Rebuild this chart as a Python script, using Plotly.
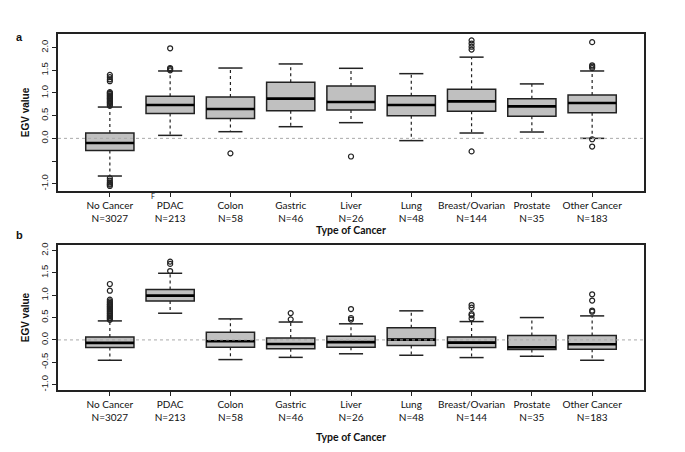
import plotly.graph_objects as go
from plotly.subplots import make_subplots

# ---------------- data
categories = ["No Cancer", "PDAC", "Colon", "Gastric", "Liver", "Lung",
              "Breast/Ovarian", "Prostate", "Other Cancer"]
counts = [3027, 213, 58, 46, 26, 48, 144, 35, 183]

# panel a
a_q1 = [-0.265, 0.55, 0.44, 0.61, 0.625, 0.50, 0.596, 0.49, 0.566]
a_med = [-0.103, 0.735, 0.647, 0.875, 0.80, 0.735, 0.816, 0.706, 0.78]
a_q3 = [0.118, 0.926, 0.91, 1.235, 1.154, 0.94, 1.08, 0.875, 0.956]
a_lo = [-0.83, 0.066, 0.147, 0.257, 0.346, -0.05, 0.118, 0.14, 0.0]
a_hi = [0.69, 1.485, 1.55, 1.64, 1.544, 1.426, 1.79, 1.20, 1.485]
a_out = [
    [0.72, 0.75, 0.78, 0.80, 0.83, 0.86, 0.88, 0.90, 0.93, 0.95, 0.98, 1.00, 1.02,
     1.26, 1.30, 1.35, 1.40, -0.88, -0.93, -0.97, -1.00, -1.02, -1.05],
    [1.50, 1.53, 1.55, 1.985],
    [-0.33],
    [],
    [-0.40],
    [],
    [1.956, 2.02, 2.09, 2.16, -0.287],
    [],
    [1.55, 1.58, 1.61, 2.12, -0.02, -0.18],
]

# panel b
b_q1 = [-0.17, 0.873, -0.164, -0.20, -0.164, -0.127, -0.17, -0.216, -0.21]
b_med = [-0.067, 0.99, -0.03, -0.09, -0.05, 0.007, -0.06, -0.164, -0.097]
b_q3 = [0.067, 1.127, 0.17, 0.045, 0.082, 0.27, 0.067, 0.10, 0.097]
b_lo = [-0.455, 0.597, -0.44, -0.39, -0.31, -0.343, -0.395, -0.366, -0.455]
b_hi = [0.425, 1.49, 0.47, 0.40, 0.36, 0.65, 0.41, 0.50, 0.537]
b_out = [
    [0.45, 0.48, 0.50, 0.53, 0.55, 0.58, 0.60, 0.63, 0.65, 0.68, 0.70, 0.73,
     0.75, 0.78, 0.80, 0.83, 0.86, 0.90, 1.10, 1.25],
    [1.54, 1.70, 1.75],
    [],
    [0.46, 0.60],
    [0.455, 0.49, 0.69],
    [],
    [0.48, 0.55, 0.58, 0.72, 0.78],
    [],
    [0.63, 0.657, 0.88, 1.02],
]

yticks = [-1.0, -0.5, 0.0, 0.5, 1.0, 1.5, 2.0]
a_yticktext = ["-1.0", "", "0.0", "0.5", "1.0", "1.5", "2.0"]
b_yticktext = ["-1.0", "-0.5", "0.0", "0.5", "1.0", "1.5", "2.0"]

pos = list(range(1, len(categories) + 1))
xlabels = [f"{c}<br>N={n}" for c, n in zip(categories, counts)]

BOXW = 0.8
CAPW = 0.4
INK = "#222222"

fig = make_subplots(rows=2, cols=1)


def add_panel(row, q1, med, q3, lo, hi, outs):
    # box body (no whiskers, drawn separately dotted like R)
    fig.add_trace(go.Box(x=pos, q1=q1, median=med, q3=q3, lowerfence=q1, upperfence=q3,
                         width=BOXW, whiskerwidth=0, fillcolor="#c0c0c0",
                         line=dict(color=INK, width=1.5), boxpoints=False,
                         showlegend=False, hoverinfo="skip"), row=row, col=1)
    wx, wy, cx, cy, mx, my = [], [], [], [], [], []
    for p, a, b, c, d, m in zip(pos, q1, q3, lo, hi, med):
        wx += [p, p, None, p, p, None]
        wy += [b, d, None, a, c, None]
        cx += [p - CAPW / 2, p + CAPW / 2, None, p - CAPW / 2, p + CAPW / 2, None]
        cy += [d, d, None, c, c, None]
        mx += [p - BOXW / 2, p + BOXW / 2, None]
        my += [m, m, None]
    fig.add_trace(go.Scatter(x=wx, y=wy, mode="lines", line=dict(color=INK, width=1.2, dash="dot"),
                             showlegend=False, hoverinfo="skip"), row=row, col=1)
    fig.add_trace(go.Scatter(x=cx, y=cy, mode="lines", line=dict(color=INK, width=1.5),
                             showlegend=False, hoverinfo="skip"), row=row, col=1)
    fig.add_trace(go.Scatter(x=mx, y=my, mode="lines", line=dict(color="black", width=2.6),
                             showlegend=False, hoverinfo="skip"), row=row, col=1)
    ox, oy = [], []
    for p, vals in zip(pos, outs):
        ox += [p] * len(vals)
        oy += vals
    fig.add_trace(go.Scatter(x=ox, y=oy, mode="markers",
                             marker=dict(symbol="circle-open", size=5, color=INK,
                                         line=dict(width=1.2, color=INK)),
                             showlegend=False, hoverinfo="skip"), row=row, col=1)
    fig.add_hline(y=0, line=dict(color="#aaaaaa", width=1, dash="dot"), row=row, col=1)


add_panel(1, a_q1, a_med, a_q3, a_lo, a_hi, a_out)
add_panel(2, b_q1, b_med, b_q3, b_lo, b_hi, b_out)

xaxis_style = dict(range=[0.14, 9.86], tickmode="array", tickvals=pos, ticktext=xlabels,
                   showline=True, mirror=True, linecolor=INK, linewidth=1.5, automargin=False,
                   ticks="outside", ticklen=4, tickcolor=INK, showgrid=False, zeroline=False,
                   tickfont=dict(family="Lato", size=10, color="#111"),
                   title=dict(text="<b>Type of Cancer</b>",
                              font=dict(family="Lato", size=10.5, color="#111")))
yaxis_style = dict(tickmode="array", tickvals=yticks, tickangle=-90, automargin=False,
                   showline=True, mirror=True, linecolor=INK, linewidth=1.5,
                   ticks="outside", ticklen=4, tickcolor=INK, showgrid=False, zeroline=False,
                   tickfont=dict(family="Liberation Sans", size=9.5, color="#222"),
                   title=dict(text="<b>EGV value</b>", standoff=8,
                              font=dict(family="Liberation Sans", size=10, color="#111")))

fig.update_xaxes(**xaxis_style)
fig.update_yaxes(**yaxis_style)
# page body adds an 8px offset, so the figure is drawn 8px smaller with shifted margins
fig.update_layout(
    width=677, height=444,
    margin=dict(l=50, r=41, t=26, b=62),
    plot_bgcolor="white", paper_bgcolor="white",
    xaxis=dict(domain=[0, 1], title_standoff=2),
    yaxis=dict(domain=[0.559, 1.0], range=[-1.16, 2.30], ticktext=a_yticktext),
    xaxis2=dict(domain=[0, 1], title_standoff=12),
    yaxis2=dict(domain=[0.0, 0.407], range=[-1.12, 2.12], ticktext=b_yticktext),
)

fig.add_annotation(text="<b>a</b>", xref="paper", yref="paper", x=-0.075, y=1.015,
                   showarrow=False, font=dict(family="Liberation Sans", size=11, color="#111"))
fig.add_annotation(text="<b>b</b>", xref="paper", yref="paper", x=-0.075, y=0.435,
                   showarrow=False, font=dict(family="Liberation Sans", size=11, color="#111"))
fig.add_annotation(text="F", xref="paper", yref="paper", x=0.155, y=0.545,
                   showarrow=False, font=dict(family="Lato", size=7, color="#111"))

fig.write_html("out.html")
